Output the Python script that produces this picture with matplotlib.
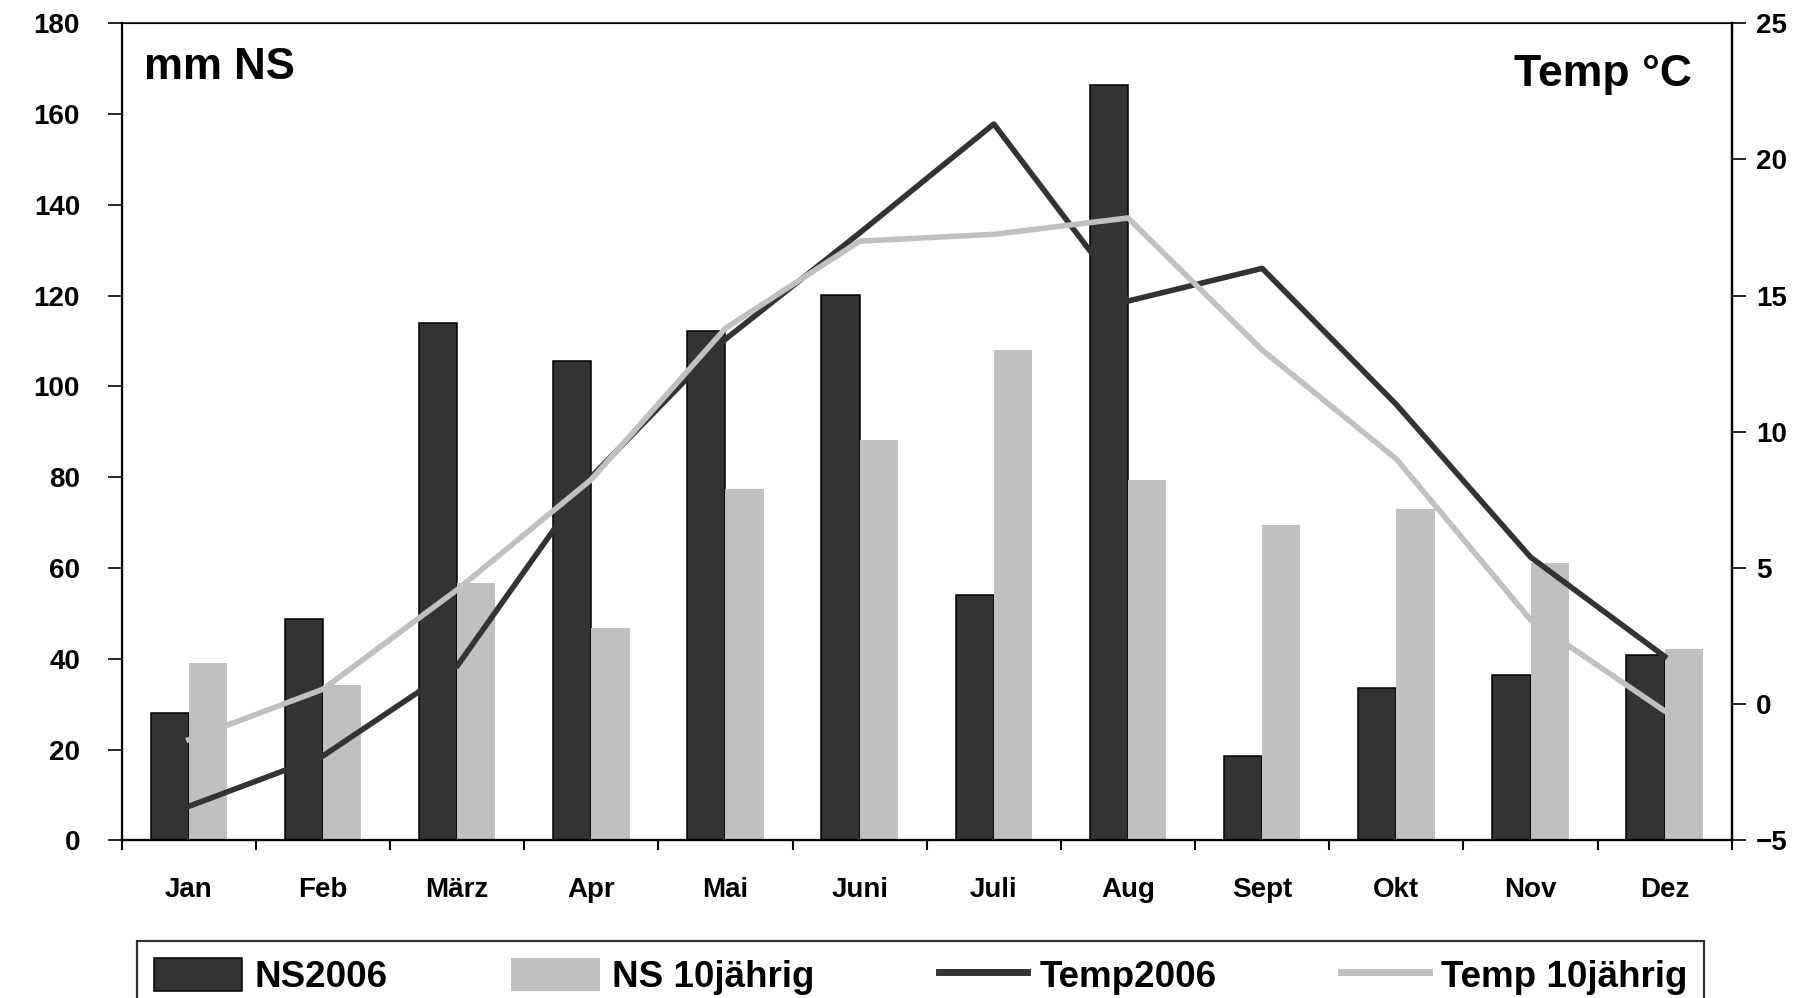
import matplotlib
matplotlib.use('Agg')
import matplotlib.pyplot as plt
import numpy as np

# data
months = ['Jan', 'Feb', 'März', 'Apr', 'Mai', 'Juni', 'Juli', 'Aug', 'Sept', 'Okt', 'Nov', 'Dez']
ns_2006 = [28.0, 48.8, 113.9, 105.6, 112.1, 120.2, 54.0, 166.4, 18.5, 33.5, 36.5, 40.8]
ns_10j = [39.0, 34.3, 56.8, 46.8, 77.4, 88.3, 108.1, 79.4, 69.4, 72.9, 61.2, 42.1]
temp_2006 = [-3.75, -1.9, 1.4, 8.35, 13.4, 17.3, 21.3, 14.8, 16.0, 11.0, 5.4, 1.75]
temp_10j = [-1.3, 0.55, 4.2, 8.25, 13.8, 17.0, 17.25, 17.85, 13.0, 9.0, 3.1, -0.25]

dark = '#333333'
light = '#c0c0c0'

plt.rcParams['font.family'] = ['Liberation Sans', 'DejaVu Sans']
plt.rcParams['font.weight'] = 'bold'

W, H = 1820, 998
fig = plt.figure(figsize=(W / 100, H / 100), dpi=100)
left, right, top, bottom = 121.7, 1731.8, 23.2, 840.4
ax = fig.add_axes([left / W, 1 - bottom / H, (right - left) / W, (bottom - top) / H])

x = np.arange(len(months))
w = 0.285
b1 = ax.bar(x - w / 2, ns_2006, w, color=dark, edgecolor='black', linewidth=1.1, label='NS2006')
b2 = ax.bar(x + w / 2, ns_10j, w, color=light, linewidth=0, label='NS 10jährig')

ax.set_xlim(-0.5, 11.5)
ax.set_ylim(0, 180)
ax.set_yticks(range(0, 181, 20))
ax.set_xticks(np.arange(-0.5, 12, 1))
ax.set_xticklabels([])
ax.set_xticks(x, minor=True)
ax.set_xticklabels(months, minor=True)
ax.tick_params(axis='x', which='major', length=7.5, width=1.5, direction='out')
ax.tick_params(axis='x', which='minor', length=0, pad=26, labelsize=20)
ax.tick_params(axis='y', length=10, width=1.2, pad=20, labelsize=20)
for s in ['left', 'right', 'bottom']:
    ax.spines[s].set_linewidth(1.6)
ax.spines['top'].set_linewidth(1.1)

ax2 = ax.twinx()
l1, = ax2.plot(x, temp_2006, color=dark, lw=4.0, label='Temp2006')
l2, = ax2.plot(x, temp_10j, color=light, lw=4.0, label='Temp 10jährig')
ax2.set_ylim(-5, 25)
ax2.set_yticks(range(-5, 26, 5))
ax2.tick_params(axis='y', length=10, width=1.2, pad=7.5, labelsize=20)
ax2.spines['right'].set_linewidth(1.6)

ax.text((144 - left) / (right - left), (bottom - 79) / (bottom - top), 'mm NS',
        transform=ax.transAxes, fontsize=31.5, fontweight='bold', ha='left', va='baseline')
ax.text((1692 - left) / (right - left), (bottom - 86) / (bottom - top), 'Temp °C',
        transform=ax.transAxes, fontsize=32, fontweight='bold', ha='right', va='baseline')

leg_top = 1 - 941 / H
leg = fig.legend([b1, b2, l1, l2], ['NS2006', 'NS 10jährig', 'Temp2006', 'Temp 10jährig'],
                 loc='upper left', bbox_to_anchor=(137 / W, leg_top - 0.01, (1704 - 137) / W, 0.01),
                 mode='expand', ncol=4, fontsize=26.5, frameon=True, fancybox=False,
                 edgecolor='black', handlelength=2.4, handleheight=1.0, handletextpad=0.33,
                 borderpad=0.45, borderaxespad=0)
leg.get_frame().set_linewidth(1.6)
for ln in leg.get_lines():
    ln.set_linewidth(5.0)

fig.savefig('out.png', dpi=100)
